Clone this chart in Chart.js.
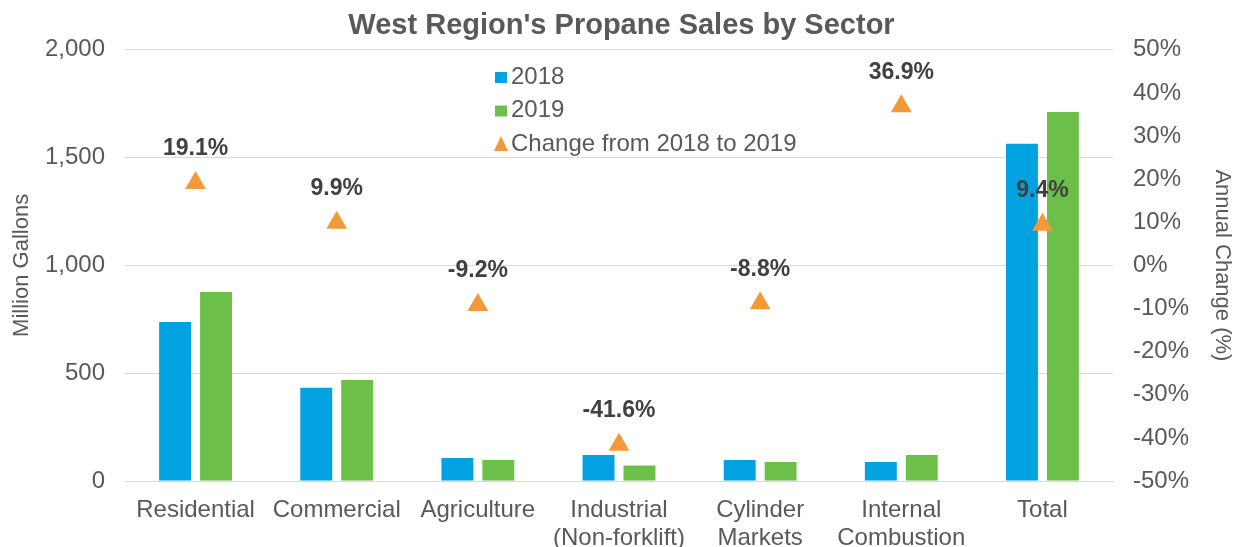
<!DOCTYPE html>
<html>
<head>
<meta charset="utf-8">
<script src="https://cdn.jsdelivr.net/npm/chart.js@4"></script>
<style>
  body { margin: 0; background: #fff; }
  #wrap { width: 1243px; height: 547px; }
</style>
</head>
<body>
<div id="wrap"><canvas id="chart"></canvas></div>
<script>
const sectors = [
    ['Residential'], ['Commercial'], ['Agriculture'], ['Industrial', '(Non-forklift)'],
    ['Cylinder', 'Markets'], ['Internal', 'Combustion'], ['Total']
];
const sales2018 = [738, 432, 107, 121, 97, 88, 1564];
const sales2019 = [877, 469, 97, 72, 88, 121, 1712];
const pctChange = [19.1, 9.9, -9.2, -41.6, -8.8, 36.9, 9.4];

const grey = '#595959';
const blue = '#00A2E0';
const green = '#6CC04A';
const orange = '#F39A38';
const fam = '"Liberation Sans", Arial, sans-serif';

// etiquetas de porcentaje sobre los triangulos
const pctLabels = {
    id: 'pctLabels',
    afterDatasetsDraw(chart) {
        const { ctx } = chart;
        const meta = chart.getDatasetMeta(2);
        ctx.save();
        ctx.font = 'bold 23px ' + fam;
        ctx.fillStyle = '#404040';
        ctx.textAlign = 'center';
        ctx.textBaseline = 'middle';
        meta.data.forEach((pt, i) => {
            ctx.fillText(pctChange[i].toFixed(1) + '%', pt.x, pt.y - 34);
        });
        ctx.restore();
    }
};

// leyenda dentro del area del grafico
const innerLegend = {
    id: 'innerLegend',
    afterDraw(chart) {
        const { ctx } = chart;
        const items = [
            { text: '2018', color: blue, box: 'square' },
            { text: '2019', color: green, box: 'square' },
            { text: 'Change from 2018 to 2019', color: orange, box: 'triangle' }
        ];
        const x0 = 494, y0 = 77, step = 33.5;
        ctx.save();
        ctx.font = '24px ' + fam;
        ctx.textBaseline = 'middle';
        ctx.textAlign = 'left';
        items.forEach((it, i) => {
            const y = y0 + i * step;
            ctx.fillStyle = it.color;
            if (it.box === 'square') {
                ctx.fillRect(x0 + 1, y - 5, 12, 11);
            } else {
                ctx.beginPath();
                ctx.moveTo(x0 + 7, y - 8);
                ctx.lineTo(x0 + 14, y + 7);
                ctx.lineTo(x0, y + 7);
                ctx.closePath();
                ctx.fill();
            }
            ctx.fillStyle = grey;
            ctx.fillText(it.text, x0 + 17, y);
        });
        ctx.restore();
    }
};

const data = {
    labels: sectors,
    datasets: [
        {
            type: 'bar',
            label: '2018',
            data: sales2018,
            backgroundColor: blue,
            yAxisID: 'y',
            order: 2,
            categoryPercentage: 0.58,
            barPercentage: 0.78
        },
        {
            type: 'bar',
            label: '2019',
            data: sales2019,
            backgroundColor: green,
            yAxisID: 'y',
            order: 2,
            categoryPercentage: 0.58,
            barPercentage: 0.78
        },
        {
            type: 'line',
            label: 'Change from 2018 to 2019',
            data: pctChange,
            yAxisID: 'y1',
            showLine: false,
            pointStyle: 'triangle',
            pointRadius: 12,
            pointBackgroundColor: orange,
            pointBorderColor: orange,
            pointBorderWidth: 0,
            order: 0
        }
    ]
};

const tickFont = { family: fam, size: 24, lineHeight: 1.15 };

const config = {
    type: 'bar',
    data,
    plugins: [pctLabels, innerLegend],
    options: {
        responsive: true,
        maintainAspectRatio: false,
        animation: false,
        layout: { padding: 0 },
        plugins: {
            legend: { display: false },
            tooltip: { enabled: false },
            title: {
                display: true,
                text: "West Region's Propane Sales by Sector",
                color: grey,
                font: { family: fam, size: 29, weight: 'bold', lineHeight: 1.2 },
                padding: { top: 9, bottom: 6 }
            }
        },
        scales: {
            x: {
                grid: { display: false },
                border: { color: '#d9d9d9', width: 1 },
                ticks: { color: grey, font: tickFont, maxRotation: 0, autoSkip: false, padding: 8 },
                afterFit(scale) { scale.height = 66; }
            },
            y: {
                position: 'left',
                min: 0,
                max: 2000,
                grid: { color: '#d9d9d9', drawTicks: false },
                border: { display: false },
                ticks: { stepSize: 500, color: grey, font: tickFont, padding: 20 },
                title: {
                    display: true,
                    text: 'Million Gallons',
                    color: grey,
                    font: { family: fam, size: 22 },
                    padding: { top: 9 }
                },
                afterFit(scale) { scale.width = 125; }
            },
            y1: {
                position: 'right',
                min: -50,
                max: 50,
                grid: { display: false, drawTicks: false },
                border: { display: false },
                ticks: {
                    stepSize: 10,
                    color: grey,
                    font: tickFont,
                    padding: 20,
                    callback: v => v + '%'
                },
                title: {
                    display: true,
                    text: 'Annual Change (%)',
                    color: grey,
                    font: { family: fam, size: 22 },
                    padding: { top: 8 }
                },
                afterFit(scale) { scale.width = 130; }
            }
        }
    }
};

var chart = new Chart(document.getElementById('chart'), config);
</script>
</body>
</html>
